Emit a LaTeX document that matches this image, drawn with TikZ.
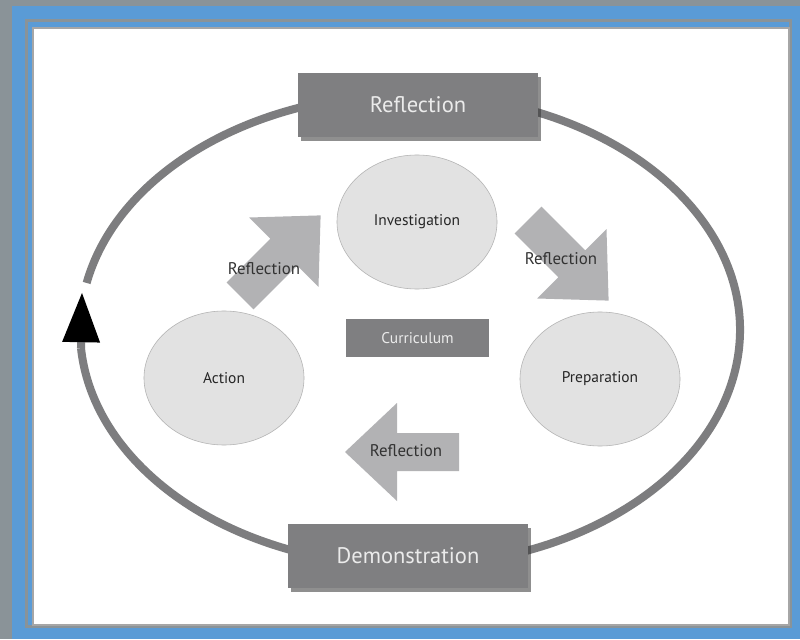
\documentclass[tikz,border=0pt]{standalone}
\usepackage{fontspec}
\setmainfont{PT Sans}
\usepackage{tikz}
\usetikzlibrary{shapes.geometric,shadows,arrows.meta}

\definecolor{framegray}{HTML}{8A9398}
\definecolor{frameblue}{HTML}{5A9BD6}
\definecolor{boxgray}{HTML}{7F7F81}
\definecolor{ringgray}{HTML}{7D7D7F}
\definecolor{bubblegray}{HTML}{E2E2E2}
\definecolor{arrowgray}{HTML}{B2B2B4}

\begin{document}
\begin{tikzpicture}[
    x=0.025cm, y=0.025cm,
    darkbox/.style={rectangle, fill=boxgray, text=white!92!black, minimum width=6cm, minimum height=1.6cm, font=\fontsize{16}{18}\selectfont},
    stage/.style={darkbox, drop shadow={shadow xshift=0.08cm, shadow yshift=-0.1cm, fill=black!80, opacity=0.55}},
    phase/.style={ellipse, draw=black!30, fill=bubblegray, minimum width=4cm, minimum height=3.35cm, font=\fontsize{11}{13}\selectfont, text=black!85},
    ring/.style={line width=0.2cm, draw=ringgray},
    tag/.style={font=\fontsize{12}{14}\selectfont, text=black!80},
    reflect/.pic={\fill[arrowgray] (0,-19) -- (62,-19) -- (62,-49) -- (114,0) -- (62,49) -- (62,19) -- (0,19) -- cycle;}
]

% Frame
\useasboundingbox (0,0) rectangle (800,639);
\fill[framegray] (0,0) rectangle (800,639);
\fill[frameblue] (12,0) rectangle (800,633);
\draw[framegray, line width=0.08cm] (26.5,12.5) rectangle (790.5,618.5);
\filldraw[fill=white, draw=black!35, line width=1.2pt] (33,14) rectangle (789,611);

% Outer cycle
\coordinate (ringc) at (410,309);
\coordinate (tipend) at (82,346);
\draw[ring] (ringc) ++(168.5:330 and 236) arc[start angle=168.5, end angle=-175.6, x radius=330, y radius=236] coordinate (tipbase);
\draw[ring, -{Triangle[length=35pt, width=27pt, line width=0pt, color=black]}] (tipbase) -- (tipend);

% Nodes
\node[stage] (refl) at (418,534) {Reflection};
\node[stage] (demo) at (408,83) {Demonstration};
\node[darkbox, minimum width=3.575cm, minimum height=0.95cm, font=\fontsize{11}{13}\selectfont] (curr) at (417.5,301) {Curriculum};

\node[phase] (inv) at (417,417) {Investigation};
\node[phase] (act) at (224,261) {Action};
\node[phase] (prep) at (600,260) {Preparation};

% Reflection arrows
\pic[rotate=45] at (240,343) {reflect};
\pic[rotate=-45] at (528,419) {reflect};
\pic[rotate=180] at (459,187) {reflect};
\node[tag] (tagai) at (264,370) {Reflection};
\node[tag] (tagip) at (561,380) {Reflection};
\node[tag] (tagpa) at (406,188) {Reflection};

\end{tikzpicture}
\end{document}
